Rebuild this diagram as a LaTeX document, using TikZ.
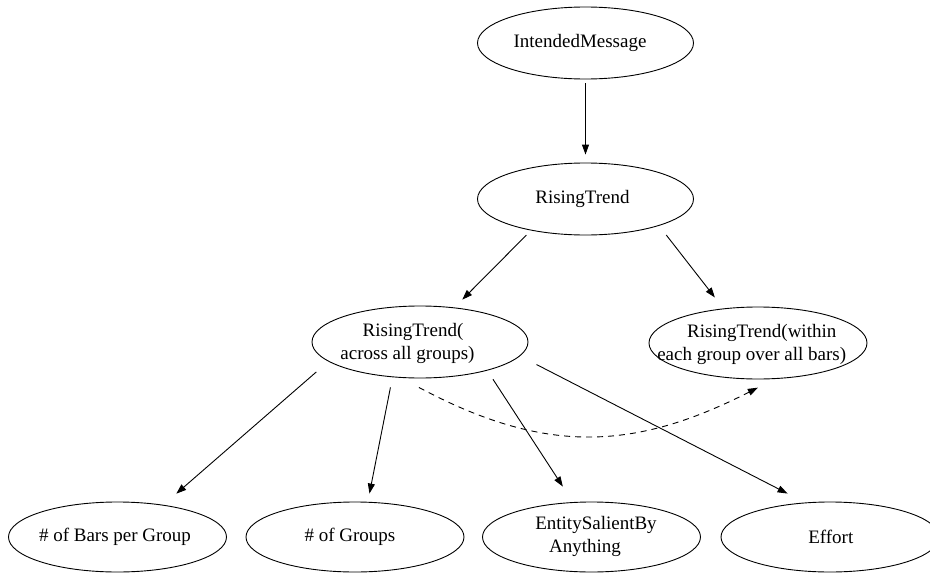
\documentclass[tikz,border=0pt]{standalone}
\usepackage{fontspec}
\setmainfont{Liberation Serif}
\usetikzlibrary{arrows.meta,shapes.geometric}
\begin{document}
\begin{tikzpicture}[x=1pt,y=1pt,
  el/.style={draw,ellipse,line width=0.9pt,inner sep=0pt,minimum width=216pt,minimum height=72pt},
  elb/.style={el,minimum width=218pt,minimum height=70pt},
  lbl/.style={font=\fontsize{19}{23}\selectfont,align=center,inner sep=0pt},
  edge/.style={line width=0.9pt,-{Triangle[length=10pt,width=7pt]}},
  dashedge/.style={edge,dash pattern=on 6pt off 5pt}]
\useasboundingbox (0,-573) rectangle (930,0);
% ellipses
\node[el] (im) at (585.5,-43) {};
\node[el] (rt) at (585.5,-199) {};
\node[el] (ac) at (420,-342) {};
\node[el,minimum width=218pt] (wi) at (758,-343) {};
\node[elb] (bars) at (117.5,-537) {};
\node[elb] (groups) at (355,-537) {};
\node[elb] (entity) at (591.5,-537) {};
\node[elb] (effort) at (830,-537) {};
% labels
\node[lbl] (imt) at (580,-43) {IntendedMessage};
\node[lbl] (rtt) at (582.5,-199) {RisingTrend};
\node[lbl] (act) at (407.5,-343) {\hspace*{11pt}RisingTrend(\\across all groups)};
\node[lbl] (wit) at (751.7,-344) {\hspace*{20pt}RisingTrend(within\\each group over all bars)};
\node[lbl] (barst) at (115,-537) {\# of Bars per Group};
\node[lbl] (groupst) at (350,-537) {\# of Groups};
\node[lbl] (entityt) at (596,-536) {EntitySalientBy\\Anything\hspace*{22pt}};
\node[lbl] (effortt) at (830.8,-537) {Effort};
% edges
\draw[edge,shorten <=4pt,shorten >=8pt] (im.south) -- (rt.north);
\draw[edge,shorten <=6.5pt,shorten >=11pt] (rt.210.5) -- (ac.45);
\draw[edge,shorten <=11.7pt,shorten >=13.9pt] (rt.-20.6) -- (wi.135);
\draw[edge,shorten <=16pt,shorten >=17pt] (ac.192.5) -- (bars.35.4);
\draw[edge,shorten <=10.3pt,shorten >=8.4pt] (ac.232.4) -- (groups.70.5);
\draw[edge,shorten <=10.3pt,shorten >=18.5pt] (ac.-23.2) -- (entity.118.6);
\draw[edge,shorten <=18.5pt,shorten >=19.5pt] (ac.-8.4) -- (effort.126.9);
\draw[dashedge,shorten <=20.4pt,shorten >=19pt] (ac.242) to[out=-28,in=207,looseness=1.1] (wi.-65.7);
\end{tikzpicture}
\end{document}
